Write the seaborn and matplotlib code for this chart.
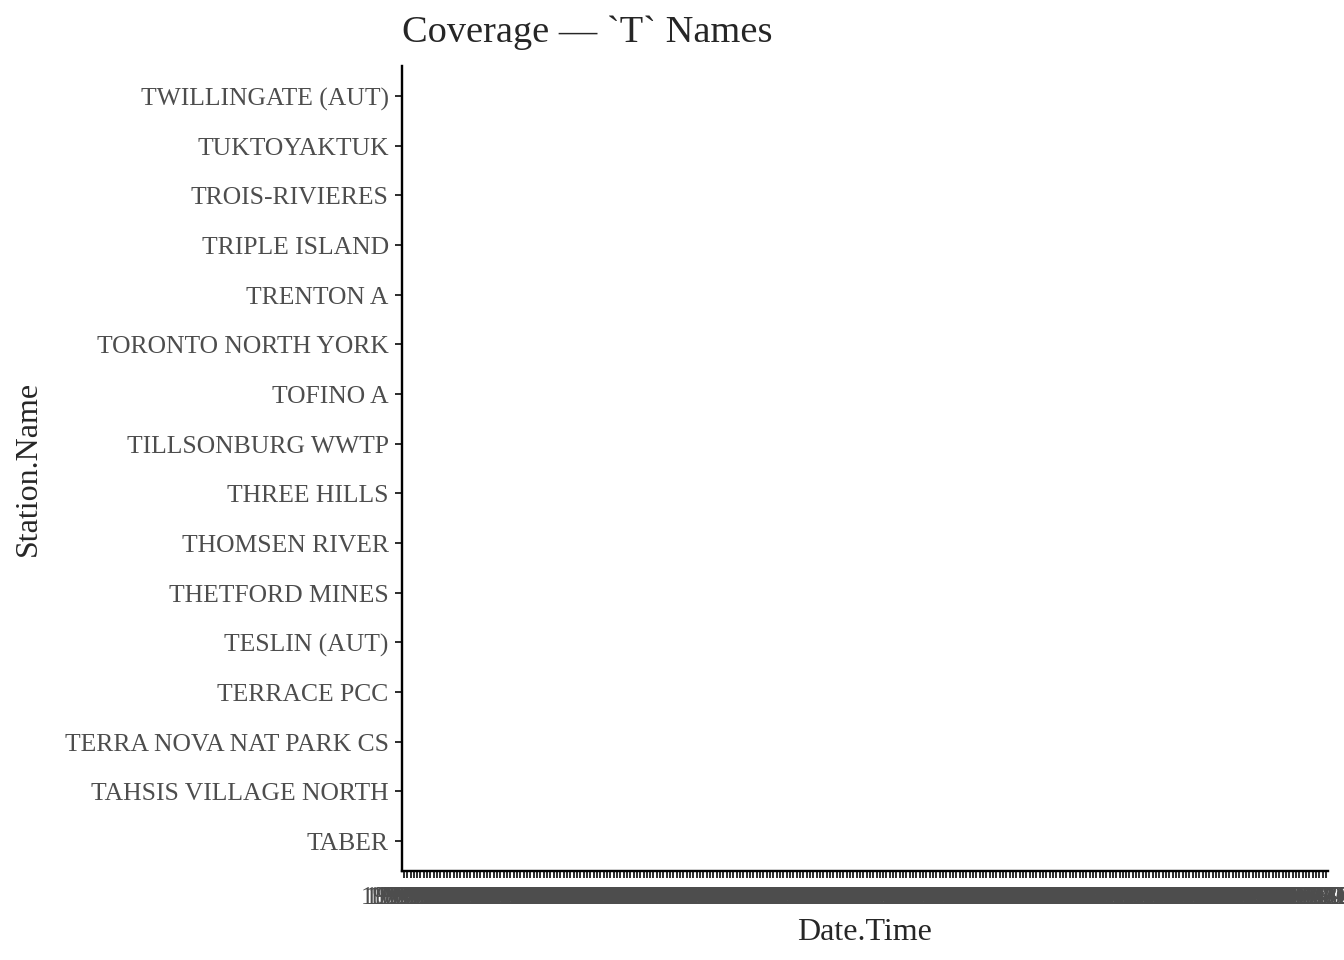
import numpy as np
import pandas as pd
import matplotlib
matplotlib.use("Agg")
import matplotlib.pyplot as plt
import matplotlib.transforms as mtransforms
import seaborn as sns

# stazioni (dal basso verso l'alto, come nell'asse discreto originale)
stations = [
    "TABER", "TAHSIS VILLAGE NORTH", "TERRA NOVA NAT PARK CS", "TERRACE PCC",
    "TESLIN (AUT)", "THETFORD MINES", "THOMSEN RIVER", "THREE HILLS",
    "TILLSONBURG WWTP", "TOFINO A", "TORONTO NORTH YORK", "TRENTON A",
    "TRIPLE ISLAND", "TROIS-RIVIERES", "TUKTOYAKTUK", "TWILLINGATE (AUT)",
]

# etichette mensili dell'asse x (categorie)
first_month = "1994-04"
last_month = "2017-05"
months = pd.date_range(first_month, last_month, freq="MS").strftime("%Y-%m").tolist()

# nessun valore osservato: il pannello resta vuoto
coverage = pd.DataFrame(np.nan, index=stations[::-1], columns=months)

sns.set_theme(style="ticks")
plt.rcParams["font.family"] = ["Liberation Serif", "DejaVu Serif"]

fig = plt.figure(figsize=(7, 5), dpi=192)
ax = fig.add_axes([0.299, 0.093, 0.689, 0.838])

sns.heatmap(coverage, ax=ax, cbar=False, vmin=0, vmax=1,
            xticklabels=True, yticklabels=True)

n_x = len(months)
n_y = len(stations)
ax.set_xlim(-0.1, n_x + 0.1)
ax.set_ylim(n_y + 0.1, -0.1)

for side in ["top", "right"]:
    ax.spines[side].set_visible(False)
for side in ["left", "bottom"]:
    ax.spines[side].set_visible(True)
    ax.spines[side].set_color("black")
    ax.spines[side].set_linewidth(0.9)

ax.tick_params(axis="both", length=2.75, width=0.6, color="black",
               labelcolor="#4D4D4D", labelsize=9.6)
ax.tick_params(axis="x", pad=3.3)
ax.tick_params(axis="y", pad=2.2)
plt.setp(ax.get_xticklabels(), rotation=0, ha="center")
plt.setp(ax.get_yticklabels(), rotation=0)

# piccolo spostamento verticale delle etichette y
shift = mtransforms.ScaledTranslation(0, -1.1 / 72, fig.dpi_scale_trans)
for lab in ax.get_yticklabels():
    lab.set_transform(lab.get_transform() + shift)

ax.set_xlabel("Date.Time", fontsize=12, labelpad=3.3)
ax.set_ylabel("Station.Name", fontsize=12, labelpad=8.3)
ax.set_title("Coverage \u2014 `T` Names", fontsize=14.4, loc="left", pad=9.1)

fig.savefig("out.png", dpi=192, facecolor="white")
